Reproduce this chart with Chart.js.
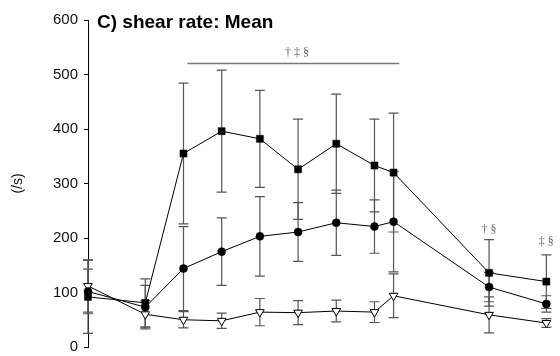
<!DOCTYPE html>
<html>
<head>
<meta charset="utf-8">
<script src="https://cdn.jsdelivr.net/npm/chart.js@4/dist/chart.umd.min.js"></script>
<style>
html,body{margin:0;padding:0;background:#fff;}
#wrap{width:560px;height:356px;position:relative;}
</style>
</head>
<body>
<div id="wrap"><canvas id="c"></canvas></div>
<script>
// time points (x positions on a linear axis)
const times = [0, 1.5, 2.5, 3.5, 4.5, 5.5, 6.5, 7.5, 8, 10.5, 12];
// series: filled squares
const squareMean = [92, 81, 355, 396, 382, 326, 373, 333, 320, 136, 120];
const squareSD   = [67, 44, 129, 112, 89, 92, 91, 85, 109, 61, 49];
// series: filled circles
const circleMean = [102, 73, 144, 175, 203, 211, 228, 221, 230, 110, 79];
const circleSD   = [41, 40, 77, 62, 73, 54, 60, 49, 92, 27, 15];
// series: open down-triangles
const triMean = [112, 60, 50, 48, 64, 63, 66, 64, 94, 59, 44];
const triSD   = [48, 25, 15, 14, 25, 22, 20, 19, 40, 33, 8];
// y ticks
const yTicks = [0, 100, 200, 300, 400, 500, 600];
// significance annotations
const sigBarRange = [2.6, 8.15];
const sigBarValue = 520;
const sigLabels = [
  {x: 5.47, y: 539, text: '† ‡ §'},
  {x: 10.5, y: 215, text: '† §'},
  {x: 12.0, y: 193, text: '‡ §'}
];
const titleText = 'C) shear rate: Mean';
const yTitle = '(/s)';

function pts(means){ return times.map((t,i)=>({x:t, y:means[i]})); }

const errorBars = {
  id: 'errorBars',
  beforeDatasetsDraw(chart){
    const ctx = chart.ctx, xs = chart.scales.x, ys = chart.scales.y;
    ctx.save();
    ctx.strokeStyle = '#555';
    ctx.lineWidth = 1.2;
    chart.data.datasets.forEach(ds=>{
      ds.sd.forEach((s,i)=>{
        const x = xs.getPixelForValue(ds.data[i].x);
        const m = ds.data[i].y;
        const yt = ys.getPixelForValue(m + s);
        const yb = ys.getPixelForValue(m - s);
        ctx.beginPath();
        ctx.moveTo(x, yt); ctx.lineTo(x, yb);
        ctx.moveTo(x-5, yt); ctx.lineTo(x+5, yt);
        ctx.moveTo(x-5, yb); ctx.lineTo(x+5, yb);
        ctx.stroke();
      });
    });
    ctx.restore();
  }
};

const annot = {
  id: 'annot',
  afterDraw(chart){
    const ctx = chart.ctx, xs = chart.scales.x, ys = chart.scales.y;
    ctx.save();
    ctx.strokeStyle = '#777';
    ctx.lineWidth = 1.5;
    const yy = ys.getPixelForValue(sigBarValue);
    ctx.beginPath();
    ctx.moveTo(xs.getPixelForValue(sigBarRange[0]), yy);
    ctx.lineTo(xs.getPixelForValue(sigBarRange[1]), yy);
    ctx.stroke();
    ctx.fillStyle = '#666';
    ctx.font = '12px "Liberation Serif", serif';
    ctx.textAlign = 'center';
    ctx.textBaseline = 'middle';
    sigLabels.forEach(l=>{
      ctx.fillText(l.text, xs.getPixelForValue(l.x), ys.getPixelForValue(l.y));
    });
    ctx.fillStyle = '#000';
    ctx.font = 'bold 19px "Liberation Sans", Arial, sans-serif';
    ctx.textAlign = 'left';
    ctx.textBaseline = 'alphabetic';
    ctx.fillText(titleText, 97, 28);
    ctx.restore();
  }
};

new Chart(document.getElementById('c'), {
  type: 'line',
  data: {
    datasets: [
      {label:'squares', data: pts(squareMean), sd: squareSD,
       borderColor:'#000', borderWidth:1, backgroundColor:'#000',
       pointStyle:'rect', pointRadius:5, pointBackgroundColor:'#000', pointBorderColor:'#000', pointBorderWidth:0.5,
       tension:0, clip:false},
      {label:'circles', data: pts(circleMean), sd: circleSD,
       borderColor:'#000', borderWidth:1, backgroundColor:'#000',
       pointStyle:'circle', pointRadius:4, pointBackgroundColor:'#000', pointBorderColor:'#000', pointBorderWidth:0.5,
       tension:0, clip:false},
      {label:'triangles', data: pts(triMean), sd: triSD,
       borderColor:'#000', borderWidth:1, backgroundColor:'#fff',
       pointStyle:'triangle', pointRotation:180, pointRadius:5, pointBackgroundColor:'#fff', pointBorderColor:'#000', pointBorderWidth:1,
       tension:0, clip:false}
    ]
  },
  options: {
    responsive:true, maintainAspectRatio:false, animation:false,
    layout:{padding:{top:20, bottom:9, left:0, right:0}},
    plugins:{legend:{display:false}, tooltip:{enabled:false}, title:{display:false}},
    scales:{
      x:{type:'linear', display:false, min:0, max:12.2},
      y:{
        min:0, max:600,
        afterBuildTicks(s){ s.ticks = yTicks.map(v=>({value:v})); },
        afterFit(s){ s.width = 88; s.paddingTop = 0; s.paddingBottom = 0; },
        ticks:{font:{size:15, family:'"Liberation Sans", Arial, sans-serif'}, color:'#111', padding:6},
        grid:{display:true, drawOnChartArea:false, drawTicks:true, tickLength:4, color:'#000'},
        border:{display:true, color:'#000', width:1},
        title:{display:true, text:yTitle, font:{size:14, family:'"Liberation Sans", Arial, sans-serif'}, color:'#111', padding:{top:10,bottom:0}}
      }
    }
  },
  plugins:[errorBars, annot]
});
</script>
</body>
</html>
